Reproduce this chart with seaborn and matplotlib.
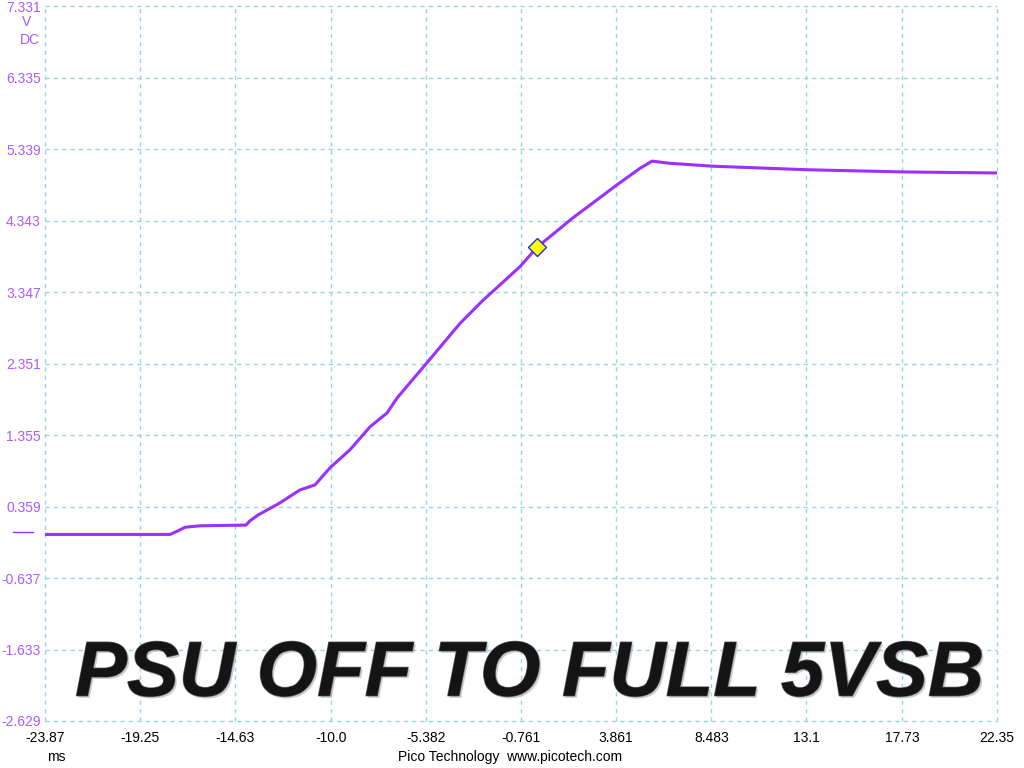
# PSU standby rail start-up, redrawn from a PicoScope capture.

import matplotlib
matplotlib.use("Agg")

import matplotlib.pyplot as plt
import matplotlib.patheffects as pe
import pandas as pd
import seaborn as sns

# trace (time in ms, voltage in V)
timeMs = [-23.87, -17.80, -17.41, -17.07, -16.35, -14.11, -13.92, -13.53,
          -12.46, -11.49, -10.76, -10.03, -9.06, -8.09, -7.27, -6.78,
          -5.33, -3.72, -2.61, -0.81, 0.02, 1.76, 2.74, 3.90, 5.02,
          5.60, 6.47, 8.51, 13.13, 17.74, 22.35]
volts = [-0.03, -0.03, 0.02, 0.07, 0.09, 0.10, 0.16, 0.24,
         0.41, 0.59, 0.66, 0.90, 1.15, 1.47, 1.66, 1.87,
         2.36, 2.91, 3.23, 3.70, 3.97, 4.38, 4.59, 4.84, 5.07,
         5.17, 5.14, 5.10, 5.05, 5.02, 5.005]

# ruler marker
markerTime = [0.02]
markerVolt = [3.97]

xTicks = [-23.87, -19.25, -14.63, -10.0, -5.382, -0.761, 3.861, 8.483, 13.1, 17.73, 22.35]
xLabels = ["-23.87", "-19.25", "-14.63", "-10.0", "-5.382", "-0.761", "3.861",
           "8.483", "13.1", "17.73", "22.35"]
yTicks = [7.331, 6.335, 5.339, 4.343, 3.347, 2.351, 1.355, 0.359, -0.637, -1.633, -2.629]
yLabels = ["7.331", "6.335", "5.339", "4.343", "3.347", "2.351", "1.355", "0.359",
           "-0.637", "-1.633", "-2.629"]

traceColor = "#9b30ff"
labelColor = "#a85cff"
gridColor = "#98d4e8"

sns.set_theme(style="white")
plt.rcParams["font.family"] = ["Liberation Sans", "DejaVu Sans"]

df = pd.DataFrame({"t": timeMs, "v": volts})

fig = plt.figure(figsize=(10.24, 7.68), dpi=100)
ax = fig.add_axes([45 / 1024, 47 / 768, 952 / 1024, 715 / 768])

sns.lineplot(data=df, x="t", y="v", color=traceColor, linewidth=2.2, ax=ax)
ax.plot(markerTime, markerVolt, linestyle="none", marker="D", markersize=9,
        markerfacecolor="#ffff00", markeredgecolor="#2030d0", markeredgewidth=1, zorder=5)

ax.set_xlim(xTicks[0], xTicks[-1])
ax.set_ylim(yTicks[-1], yTicks[0])
ax.set_xticks(xTicks)
ax.set_xticklabels(xLabels)
ax.set_yticks(yTicks)
ax.set_yticklabels(yLabels)
ax.tick_params(axis="x", length=0, pad=7, labelsize=10, labelcolor="black")
ax.tick_params(axis="y", length=0, pad=3, labelsize=10, labelcolor=labelColor)
ax.set_xlabel("")
ax.set_ylabel("")
for spine in ax.spines.values():
    spine.set_visible(False)
ax.grid(True, color=gridColor, linestyle=(0, (3, 3)), linewidth=1)
for line in ax.get_xgridlines() + ax.get_ygridlines():
    line.set_clip_on(False)

# zero level marker at the left edge
ax.plot([-0.034, -0.013], [0, 0], color=traceColor, linewidth=1,
        transform=ax.get_yaxis_transform(), clip_on=False)

fig.text(27 / 1024, 1 - 22 / 768, "V", color=labelColor, fontsize=10, ha="center", va="center")
fig.text(40 / 1024, 1 - 40 / 768, "DC", color=labelColor, fontsize=10, ha="right", va="center")
fig.text(56 / 1024, 1 - 757 / 768, "ms", color="black", fontsize=10, ha="center", va="center")
fig.text(510 / 1024, 1 - 757 / 768, "Pico Technology  www.picotech.com", color="black",
         fontsize=10, ha="center", va="center")

ax.text(0.509, 0.064, "PSU OFF TO FULL 5VSB", transform=ax.transAxes,
        fontsize=56, fontweight="bold", fontstyle="italic", color="#141414",
        ha="center", va="center",
        path_effects=[pe.SimplePatchShadow(offset=(1.5, -1.5), shadow_rgbFace="#999999", alpha=0.5),
                      pe.withStroke(linewidth=1, foreground="#666666")])

fig.savefig("out.png", dpi=100)
plt.close(fig)
